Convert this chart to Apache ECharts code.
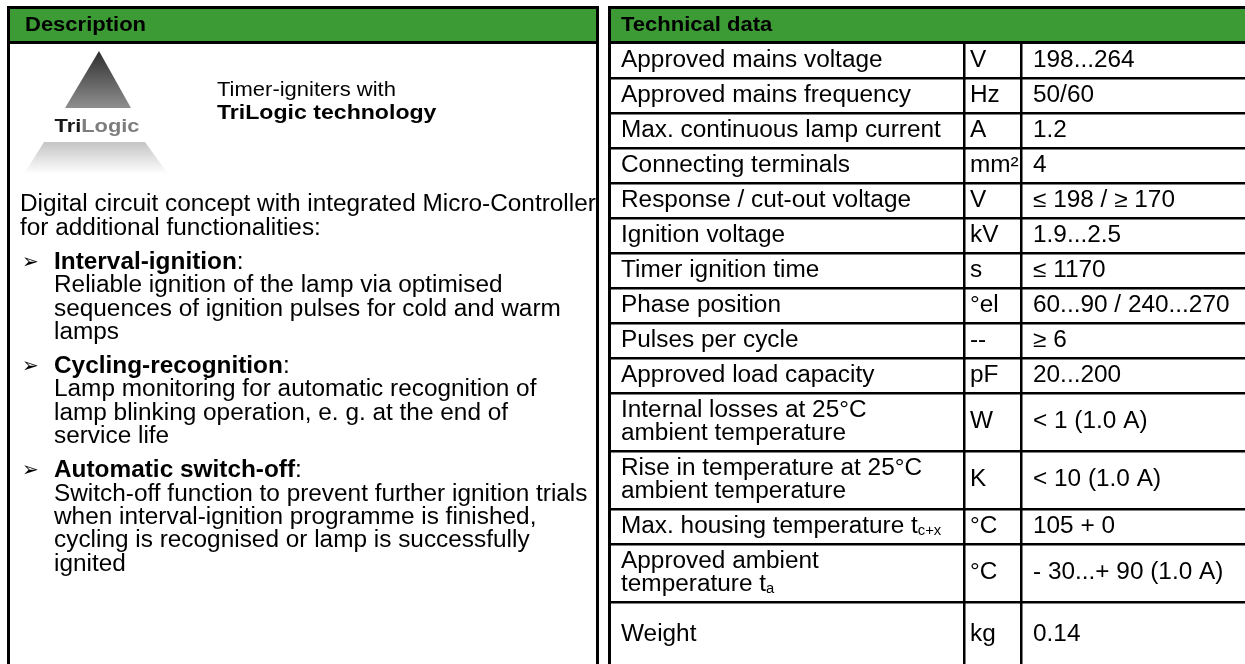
<!DOCTYPE html>
<html><head><meta charset="utf-8">
<script src="https://cdn.jsdelivr.net/npm/echarts@6/dist/echarts.min.js"></script>
<style>html,body{margin:0;padding:0;background:#fff}#c{width:1245px;height:664px}</style>
</head><body><div id="c"></div>
<script>
// ---------- data ----------
const headerLabels = ['Description', 'Technical data'];
const logoWords = ['Tri', 'Logic'];
const introLines = ['Timer-igniters with', 'TriLogic technology'];
const summaryLines = ['Digital circuit concept with integrated Micro-Controller', 'for additional functionalities:'];
const featureTitles = ['Interval-ignition', 'Cycling-recognition', 'Automatic switch-off'];
const featureTexts = [
  ['Reliable ignition of the lamp via optimised', 'sequences of ignition pulses for cold and warm', 'lamps'],
  ['Lamp monitoring for automatic recognition of', 'lamp blinking operation, e. g. at the end of', 'service life'],
  ['Switch-off function to prevent further ignition trials', 'when interval-ignition programme is finished,', 'cycling is recognised or lamp is successfully', 'ignited']
];
const techParams = [
  'Approved mains voltage', 'Approved mains frequency', 'Max. continuous lamp current',
  'Connecting terminals', 'Response / cut-out voltage', 'Ignition voltage', 'Timer ignition time',
  'Phase position', 'Pulses per cycle', 'Approved load capacity',
  'Internal losses at 25°C\nambient temperature', 'Rise in temperature at 25°C\nambient temperature',
  'Max. housing temperature t{sub|c+x}', 'Approved ambient\ntemperature t{sub|a}', 'Weight'
];
const techUnits = ['V', 'Hz', 'A', 'mm²', 'V', 'kV', 's', '°el', '--', 'pF', 'W', 'K', '°C', '°C', 'kg'];
const techValues = ['198...264', '50/60', '1.2', '4', '≤ 198 / ≥ 170', '1.9...2.5', '≤ 1170',
  '60...90 / 240...270', '≥ 6', '20...200', '< 1 (1.0 A)', '< 10 (1.0 A)', '105 + 0', '- 30...+ 90 (1.0 A)', '0.14'];

// ---------- layout ----------
const FONT = '"Liberation Sans", Arial, sans-serif';
const SX = 1.06;
const FS = 23;
const GREEN = '#3d9b36';
const W = 1245, H = 664;
const LP = {x0: 7, x1: 599, tx: 18};
const RP = {x0: 608, x1: 1250, c1: 964, c2: 1021, tx: 13};
const HEAD = {top: 6, bottom: 44};
const BW = 3;
const ROW1 = 43, HS = 35, HD = 58, HLAST = 66;

const els = [];
function rect(x, y, w, h, fill) {
  els.push({type: 'rect', silent: true, shape: {x, y, width: w, height: h}, style: {fill}});
}
function text(x, y, t, o) {
  o = o || {};
  els.push({type: 'text', silent: true, x, y, scaleX: o.sx || SX, z: 10,
    style: Object.assign({text: t, x: 0, y: 0, fontFamily: FONT, fontSize: FS, fill: '#000',
      verticalAlign: 'middle', textAlign: 'left'}, o.style || {})});
}

// panels: headers and outer borders
[LP, RP].forEach((p, i) => {
  rect(p.x0, HEAD.top, p.x1 - p.x0, HEAD.bottom - HEAD.top, '#000');
  rect(p.x0 + BW, HEAD.top + BW, p.x1 - p.x0 - 2 * BW, HEAD.bottom - HEAD.top - 2 * BW, GREEN);
  text(p.x0 + p.tx, (HEAD.top + HEAD.bottom) / 2, headerLabels[i], {sx: 1.1, style: {fontSize: 20, fontWeight: 'bold'}});
  rect(p.x0, HEAD.top, BW, H - HEAD.top, '#000');
  rect(p.x1 - BW, HEAD.top, BW, H - HEAD.top, '#000');
});

// logo
els.push({type: 'polygon', silent: true, shape: {points: [[99, 51], [131, 108], [65, 108]]},
  style: {fill: {type: 'linear', x: 0, y: 0, x2: 0, y2: 1, colorStops: [{offset: 0, color: '#2e2e2e'}, {offset: 1, color: '#8f8f8f'}]}}});
els.push({type: 'polygon', silent: true, shape: {points: [[44, 142], [145, 142], [168, 174], [24, 174]]},
  style: {fill: {type: 'linear', x: 0, y: 0, x2: 0, y2: 1, colorStops: [{offset: 0, color: '#c4c4c4'}, {offset: 1, color: '#ffffff'}]}}});
text(97, 127, '{a|' + logoWords[0] + '}{b|' + logoWords[1] + '}', {sx: 1.15, style: {textAlign: 'center',
  rich: {a: {fontFamily: FONT, fontSize: 19, fontWeight: 'bold', fill: '#1a1a1a'},
         b: {fontFamily: FONT, fontSize: 19, fontWeight: 'bold', fill: '#7d7d7d'}}}});

// intro
text(217, 90, introLines[0], {sx: 1.1, style: {fontSize: 20}});
text(217, 113, introLines[1], {sx: 1.1, style: {fontSize: 21, fontWeight: 'bold'}});

// description body
const LH = 23.3, PG = 11, INDENT = 54;
let y = 205;
summaryLines.forEach(l => { text(20, y, l); y += LH; });
featureTitles.forEach((t, i) => {
  y += PG;
  text(22, y, '➢', {sx: 1, style: {fontSize: 20, fontFamily: '"DejaVu Sans", sans-serif'}});
  text(INDENT, y, '{b|' + t + '}:', {style: {rich: {b: {fontFamily: FONT, fontSize: FS, fontWeight: 'bold'}}}});
  y += LH;
  featureTexts[i].forEach(l => { text(INDENT, y, l); y += LH; });
});

// technical table
let ry = ROW1;
techParams.forEach((p, i) => {
  const lines = p.split('\n').length;
  const last = i === techParams.length - 1;
  const h = last ? HLAST : (lines > 1 ? HD : HS);
  const cy = ry + h / 2;
  const rich = {sub: {fontFamily: FONT, fontSize: 14, verticalAlign: 'bottom', padding: [9, 0, 0, 0]}};
  text(RP.x0 + 13, cy, p, {style: {lineHeight: 23, rich}});
  text(RP.c1 + 6, cy, techUnits[i]);
  text(RP.c2 + 12, cy, techValues[i]);
  ry += h;
  if (!last) rect(RP.x0, ry - 1, RP.x1 - RP.x0, 2.5, '#000');
});
rect(RP.c1 - 1, HEAD.bottom, 2.5, H - HEAD.bottom, '#000');
rect(RP.c2 - 1, HEAD.bottom, 2.5, H - HEAD.bottom, '#000');

const chart = echarts.init(document.getElementById('c'));
chart.setOption({animation: false, backgroundColor: '#fff', graphic: {elements: els}});
</script></body></html>
